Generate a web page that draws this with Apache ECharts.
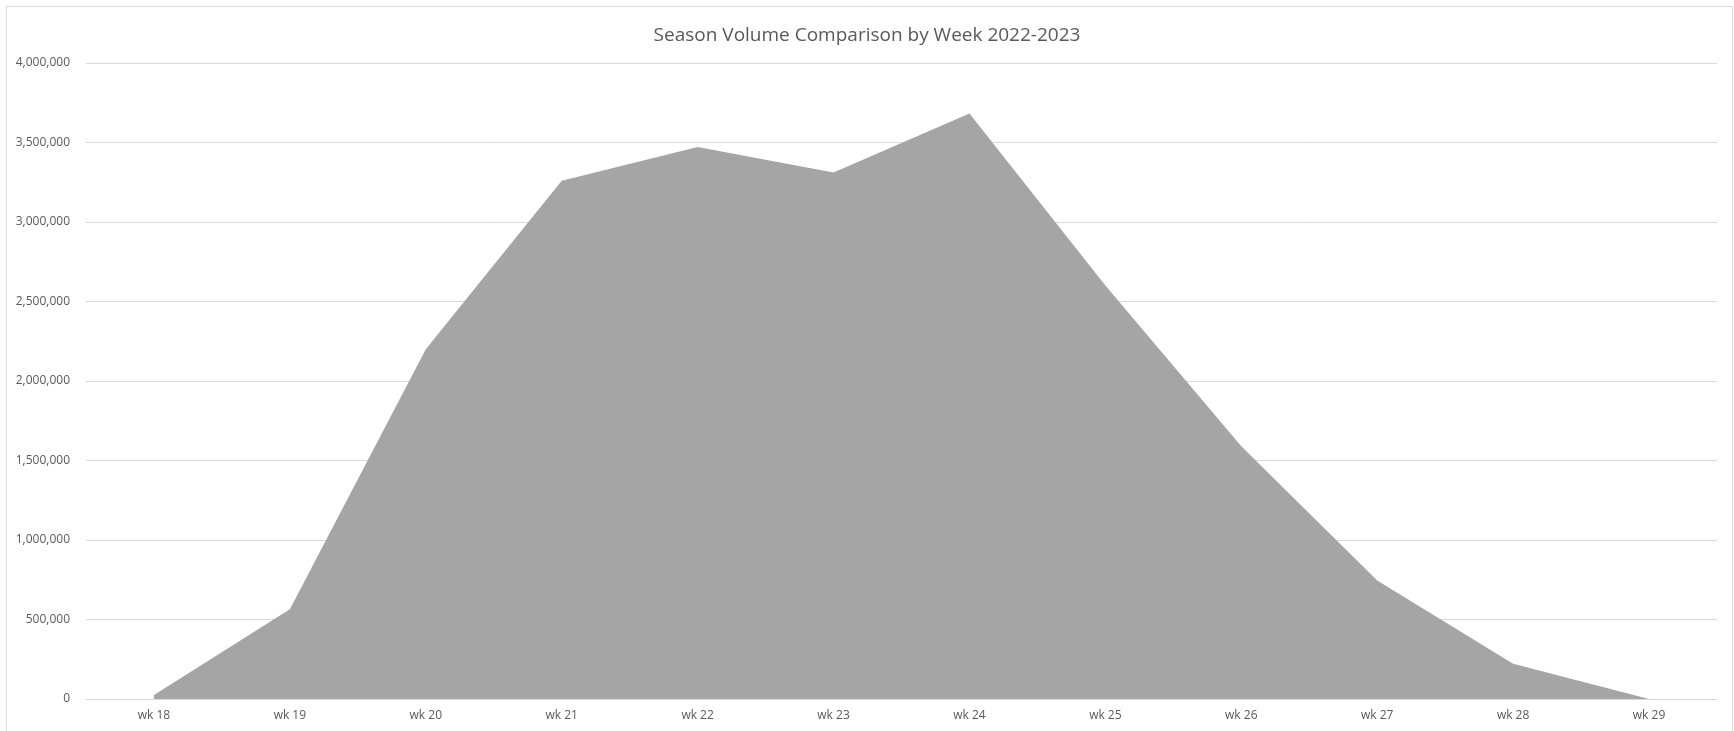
<!DOCTYPE html>
<html>
<head>
<meta charset="utf-8">
<script src="https://cdn.jsdelivr.net/npm/echarts@6/dist/echarts.min.js"></script>
<style>
html,body{margin:0;padding:0;background:#fff;}
#chart{width:1734px;height:731px;}
</style>
</head>
<body>
<div id="chart"></div>
<script>
const titleText = "Season Volume Comparison by Week 2022-2023";
const weeks = ["wk 18","wk 19","wk 20","wk 21","wk 22","wk 23","wk 24","wk 25","wk 26","wk 27","wk 28","wk 29"];
const volumes = [25000, 565000, 2200000, 3260000, 3472000, 3312000, 3682000, 2600000, 1590000, 746000, 222000, 0];
const yTicks = [0, 500000, 1000000, 1500000, 2000000, 2500000, 3000000, 3500000, 4000000];

const FONT = "'Open Sans', 'Noto Sans', sans-serif";
const chart = echarts.init(document.getElementById('chart'), null, {renderer: 'canvas'});
chart.setOption({
  animation: false,
  backgroundColor: '#ffffff',
  title: {
    text: titleText,
    left: 'center',
    top: 21,
    textStyle: {fontFamily: FONT, fontSize: 19, fontWeight: 'normal', color: '#595959'}
  },
  graphic: [{
    type: 'rect',
    shape: {x: 6.5, y: 6.5, width: 1726, height: 740},
    style: {fill: 'none', stroke: '#d9d9d9', lineWidth: 1},
    silent: true
  }],
  grid: {left: 86, right: 17, top: 63, bottom: 32, containLabel: false},
  xAxis: {
    type: 'category',
    data: weeks,
    boundaryGap: true,
    axisLine: {show: true, lineStyle: {color: '#d9d9d9', width: 1}},
    axisTick: {show: false},
    axisLabel: {color: '#595959', fontFamily: FONT, fontSize: 12, margin: 11}
  },
  yAxis: {
    type: 'value',
    min: yTicks[0],
    max: yTicks[yTicks.length - 1],
    interval: yTicks[1] - yTicks[0],
    axisLine: {show: false},
    axisTick: {show: false},
    splitLine: {lineStyle: {color: '#d9d9d9', width: 1}},
    axisLabel: {
      color: '#595959', fontFamily: FONT, fontSize: 12, margin: 16,
      formatter: v => v.toLocaleString('en-US')
    }
  },
  series: [{
    type: 'line',
    data: volumes,
    symbol: 'none',
    lineStyle: {width: 0, color: '#a5a5a5'},
    areaStyle: {color: '#a5a5a5', opacity: 1},
    itemStyle: {color: '#a5a5a5'}
  }]
});
</script>
</body>
</html>
